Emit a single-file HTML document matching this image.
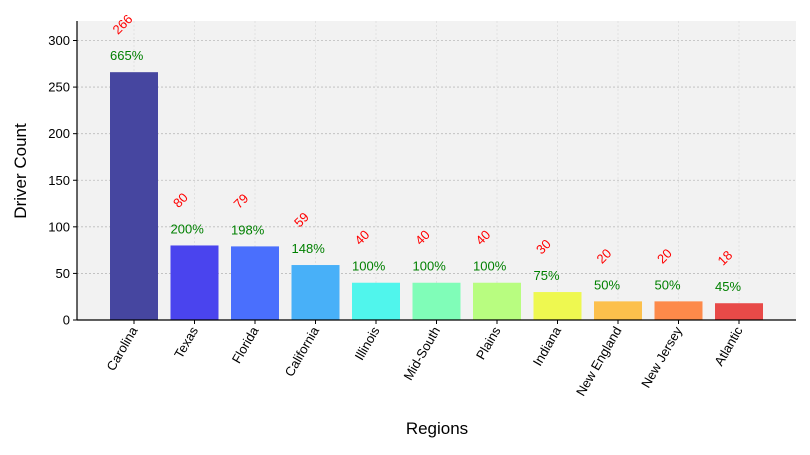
<!DOCTYPE html>
<html><head><meta charset="utf-8"><style>
body{margin:0;background:#fff;font-family:"Liberation Sans",sans-serif;}
svg text{font-family:"Liberation Sans",sans-serif;}
</style></head><body>
<svg id="chart" width="810" height="450">
<rect x="77" y="21" width="719" height="299" fill="#f2f2f2"/>
<g id="grid"></g><g id="bars"></g><g id="labels"></g><g id="axes"></g>
<text x="437" y="434" font-size="17" text-anchor="middle">Regions</text>
<text transform="translate(26,171) rotate(-90)" font-size="17" text-anchor="middle">Driver Count</text>
</svg>
<script>
const categories=["Carolina","Texas","Florida","California","Illinois","Mid-South","Plains","Indiana","New England","New Jersey","Atlantic"];
const counts=[266,80,79,59,40,40,40,30,20,20,18];
const percents=["665%","200%","198%","148%","100%","100%","100%","75%","50%","50%","45%"];
const colors=["#4646a0","#4a44ee","#4a6ffd","#48b0f8","#50f5ec","#80fdb8","#b8fd80","#eef850","#fcc04c","#fd8a4a","#e84a48"];
const yTicks=[0,50,100,150,200,250,300];
const NS="http://www.w3.org/2000/svg";
const y0=320,yScale=(320-40.5)/300;
const y=v=>y0-v*yScale;
const x=i=>134+i*60.5;
const bw=48;
function mk(tag,attrs,parent){const e=document.createElementNS(NS,tag);for(const k in attrs)e.setAttribute(k,attrs[k]);document.getElementById(parent).appendChild(e);return e;}
yTicks.forEach(t=>{
 const g=mk("line",{x1:77,x2:796,y1:y(t),y2:y(t),stroke:"#bbb","stroke-dasharray":"2,2","stroke-width":0.8},"grid");
 
 
 const tk=mk("line",{x1:73,x2:77,y1:y(t),y2:y(t),stroke:"#000"},"axes");
 
 
 const tl=mk("text",{x:70,y:y(t)+4.5,"font-size":13,"text-anchor":"end"},"axes");
 tl.textContent=t;
 
 
});
categories.forEach((c,i)=>{
 const cx=x(i);
 const vg=mk("line",{x1:cx,x2:cx,y1:21,y2:320,stroke:"#ddd","stroke-dasharray":"2,2","stroke-width":0.8},"grid");
 
 
 const b=mk("rect",{x:cx-bw/2,y:y(counts[i]),width:bw,height:y0-y(counts[i]),fill:colors[i]},"bars");
 
 
 const p=mk("text",{x:cx-24,y:y(counts[i])-12,"font-size":13,fill:"#008000"},"labels");
 p.textContent=percents[i];
 
 
 const vx=cx-16,vy=y(counts[i])-37;
 const v=mk("text",{x:vx,y:vy,"font-size":13,fill:"#ff0000",transform:`rotate(-45 ${vx} ${vy})`},"labels");
 v.textContent=counts[i];
 
 
 const tk=mk("line",{x1:cx,x2:cx,y1:320,y2:324,stroke:"#000"},"axes");
 
 
 const lx=cx+4,ly=330;
 const tl=mk("text",{x:lx,y:ly,"font-size":13,"text-anchor":"end",transform:`rotate(-60 ${lx} ${ly})`},"axes");
 tl.textContent=c;
 
 
});
const la=mk("line",{x1:77,x2:77,y1:21,y2:320,stroke:"#000","stroke-width":1.2},"axes");


const ba=mk("line",{x1:77,x2:796,y1:320,y2:320,stroke:"#000","stroke-width":1.2},"axes");


</script>
</body></html>
